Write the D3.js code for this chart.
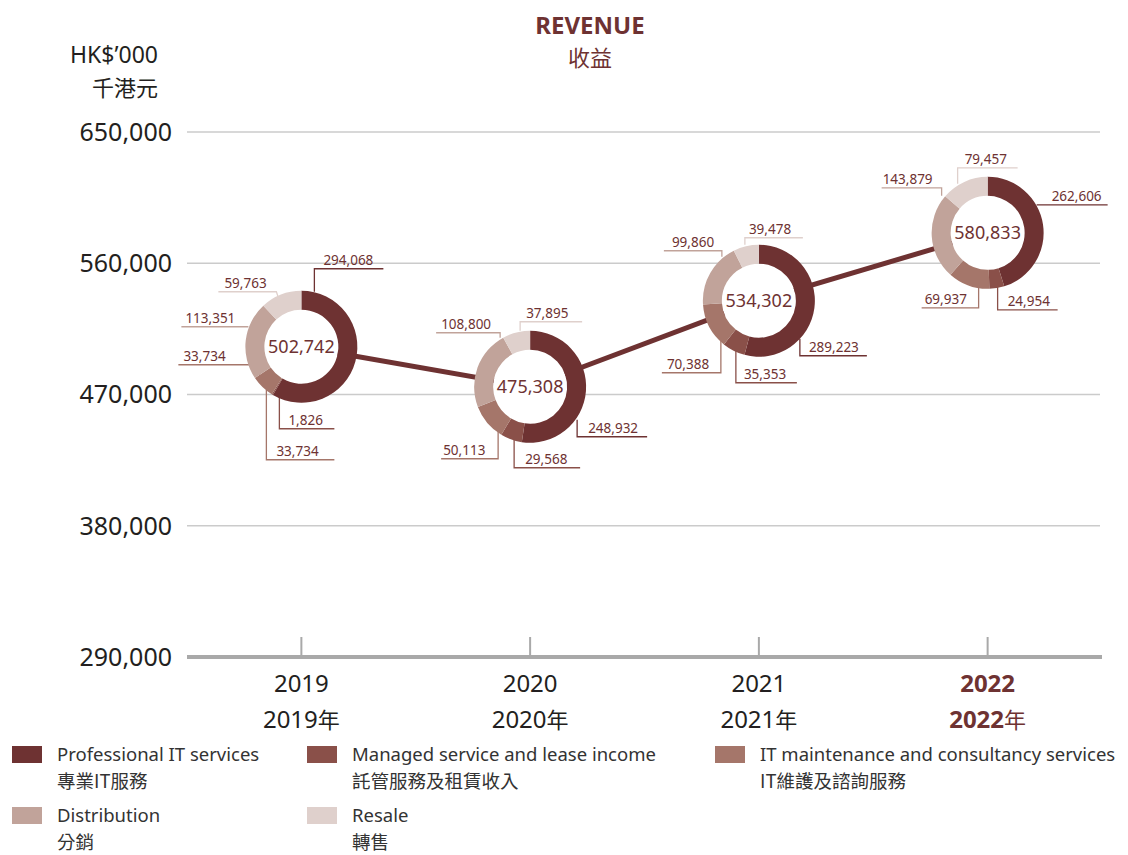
<!DOCTYPE html>
<html><head><meta charset="utf-8">
<script src="https://cdn.jsdelivr.net/npm/d3@7"></script>
<style>
html,body{margin:0;padding:0;background:#fff;}
svg{display:block;font-family:"Noto Sans","Noto Sans CJK TC",sans-serif;}
</style></head>
<body><svg id="chart" width="1128" height="855"></svg>
<script>
// ---- data ----
const years = ["2019", "2020", "2021", "2022"];
const yearLabelsZh = ["2019年", "2020年", "2021年", "2022年"];
const totals = [502742, 475308, 534302, 580833];
const professionalIT = [294068, 248932, 289223, 262606];
const managedLease = [1826, 29568, 35353, 24954];
const itMaintenance = [33734, 50113, 70388, 69937];
const distribution = [113351, 108800, 99860, 143879];
const resale = [59763, 37895, 39478, 79457];
const yTicks = [290000, 380000, 470000, 560000, 650000];
const seriesNamesEn = ["Professional IT services", "Managed service and lease income", "IT maintenance and consultancy services", "Distribution", "Resale"];
const seriesNamesZh = ["專業IT服務", "託管服務及租賃收入", "IT維護及諮詢服務", "分銷", "轉售"];

// ---- styles / layout ----
const colors = ["#6e3232", "#8a5049", "#a5766a", "#c1a39a", "#dfd0cc"];
const accent = "#6e3232";
const textDark = "#231f20";
const series = [professionalIT, managedLease, itMaintenance, distribution, resale];

// label leader layouts per year: segment index, path offsets from donut centre, text offset
const labelLayouts = [
  [
    {s:0, p:[[13,-55],[13,-78],[82,-78]], t:[22,-82]},
    {s:4, p:[[-22,-46],[-25,-55],[-83,-55]], t:[-77,-59]},
    {s:3, p:[[-53,-20],[-120,-20]], t:[-116,-24]},
    {s:2, p:[[-41,30],[-47,18],[-123,18]], t:[-118,14]},
    {s:1, p:[[-22,48],[-22,82],[33,82]], t:[-13,78]},
    {s:2, p:[[-35,43],[-35,113],[33,113]], t:[-25,109]}
  ],
  [
    {s:4, p:[[-10,-56],[-10,-65],[52,-65]], t:[-4,-69]},
    {s:3, p:[[-30,-49],[-30,-54],[-94,-54]], t:[-89,-58]},
    {s:0, p:[[47,33],[47,50],[117,50]], t:[58,46]},
    {s:1, p:[[-16,53],[-16,81],[50,81]], t:[-5,77]},
    {s:2, p:[[-32,43],[-32,72],[-89,72]], t:[-87,68]}
  ],
  [
    {s:4, p:[[-14,-56],[-14,-63],[44,-63]], t:[-10,-67]},
    {s:3, p:[[-37,-44],[-37,-50],[-95,-50]], t:[-87,-54]},
    {s:0, p:[[41,38],[41,55],[108,55]], t:[50,51]},
    {s:1, p:[[-23,48],[-23,82],[38,82]], t:[-15,78]},
    {s:2, p:[[-38,35],[-38,72],[-97,72]], t:[-92,68]}
  ],
  [
    {s:4, p:[[-30,-49],[-30,-65],[30,-65]], t:[-23,-69]},
    {s:3, p:[[-46,-37],[-46,-45],[-106,-45]], t:[-105,-49]},
    {s:0, p:[[49,-28],[120,-28]], t:[64,-32]},
    {s:1, p:[[10,51],[10,77],[70,77]], t:[20,73]},
    {s:2, p:[[-9,55],[-9,75],[-66,75]], t:[-63,71]}
  ]
];

const svg = d3.select("#chart");
const fmt = d3.format(",");

const x = d3.scalePoint().domain(years).range([187, 1102]).padding(0.5);
const y = d3.scaleLinear().domain([290000, 650000]).range([657, 132]);

// title
svg.append("text").attr("x", 590).attr("y", 34).attr("text-anchor", "middle")
  .attr("font-size", 24).attr("font-weight", "bold").attr("fill", accent).text("REVENUE");
svg.append("text").attr("x", 590).attr("y", 66).attr("text-anchor", "middle")
  .attr("font-size", 22).attr("fill", accent).attr("font-family", "Noto Sans CJK TC").text("收益");

// unit
svg.append("text").attr("x", 158).attr("y", 63).attr("text-anchor", "end")
  .attr("font-size", 23).attr("fill", textDark).text("HK$’000");
svg.append("text").attr("x", 158).attr("y", 96).attr("text-anchor", "end")
  .attr("font-size", 22).attr("fill", textDark).attr("font-family", "Noto Sans CJK TC").text("千港元");

// gridlines
svg.append("g").selectAll("line").data(yTicks.filter(d => d > 290000)).join("line")
  .attr("x1", 187).attr("x2", 1100)
  .attr("y1", d => y(d)).attr("y2", d => y(d))
  .attr("stroke", "#cbcbcb").attr("stroke-width", 1.5);

// y tick labels
svg.append("g").selectAll("text").data(yTicks).join("text")
  .attr("x", 172).attr("y", d => y(d)).attr("dy", "0.35em").attr("text-anchor", "end")
  .attr("font-size", 25).attr("fill", textDark).text(d => fmt(d));

// x axis
svg.append("line").attr("x1", 187).attr("x2", 1102).attr("y1", y(290000)).attr("y2", y(290000))
  .attr("stroke", "#a9a9a9").attr("stroke-width", 4);
svg.append("g").selectAll("line").data(years).join("line")
  .attr("x1", d => x(d)).attr("x2", d => x(d)).attr("y1", y(290000) - 20).attr("y2", y(290000))
  .attr("stroke", "#a9a9a9").attr("stroke-width", 2);
const xl = svg.append("g").selectAll("g").data(years).join("g");
xl.append("text").attr("x", d => x(d)).attr("y", 692).attr("text-anchor", "middle")
  .attr("font-size", 24).attr("font-weight", (d, i) => i === 3 ? "bold" : "normal")
  .attr("fill", (d, i) => i === 3 ? accent : textDark).text(d => d);
xl.append("text").attr("x", d => x(d)).attr("y", 728).attr("text-anchor", "middle")
  .attr("font-size", 24).attr("fill", (d, i) => i === 3 ? accent : textDark)
  .each(function(d, i) {
    const t = d3.select(this);
    t.append("tspan").attr("font-weight", i === 3 ? "bold" : "normal").text(d);
    t.append("tspan").attr("font-family", "Noto Sans CJK TC").attr("font-size", 22).text("年");
  });

// connecting line
const pts = years.map((d, i) => [x(d), y(totals[i])]);
svg.append("path").attr("d", d3.line()(pts)).attr("fill", "none")
  .attr("stroke", accent).attr("stroke-width", 5);

// donuts
const pie = d3.pie().sort(null).value(d => d);
const arc = d3.arc().innerRadius(37).outerRadius(56);
years.forEach((yr, i) => {
  const cx = x(yr), cy = y(totals[i]);
  const vals = series.map(s => s[i]);
  const g = svg.append("g").attr("transform", `translate(${cx},${cy})`);
  // leaders
  labelLayouts[i].forEach(l => {
    g.append("path").attr("d", d3.line()(l.p)).attr("fill", "none")
      .attr("stroke", colors[l.s]).attr("stroke-width", 1.3);
  });
  g.append("circle").attr("r", 37).attr("fill", "#fff");
  g.selectAll("path.seg").data(pie(vals)).join("path").attr("class", "seg")
    .attr("d", arc).attr("fill", (d, j) => colors[j]);
  g.append("text").attr("y", 0).attr("dy", "0.35em").attr("text-anchor", "middle")
    .attr("font-size", 18).attr("fill", accent).text(fmt(totals[i]));
  labelLayouts[i].forEach(l => {
    g.append("text").attr("x", l.t[0]).attr("y", l.t[1]).attr("font-size", 13.5)
      .attr("fill", accent).text(fmt(vals[l.s]));
  });
});

// legend
const legendPos = [[12, 746], [307, 746], [715, 746], [12, 807], [307, 807]];
const lg = svg.append("g").selectAll("g").data(seriesNamesEn).join("g")
  .attr("transform", (d, i) => `translate(${legendPos[i][0]},${legendPos[i][1]})`);
lg.append("rect").attr("width", 30).attr("height", 17).attr("fill", (d, i) => colors[i]);
lg.append("text").attr("x", 45).attr("y", 15).attr("font-size", 18.5).attr("fill", "#333").text(d => d);
lg.append("text").attr("x", 45).attr("y", 42).attr("font-size", 18.5).attr("fill", "#333")
  .attr("font-family", "Noto Sans CJK TC").text((d, i) => seriesNamesZh[i]);
</script></body></html>
